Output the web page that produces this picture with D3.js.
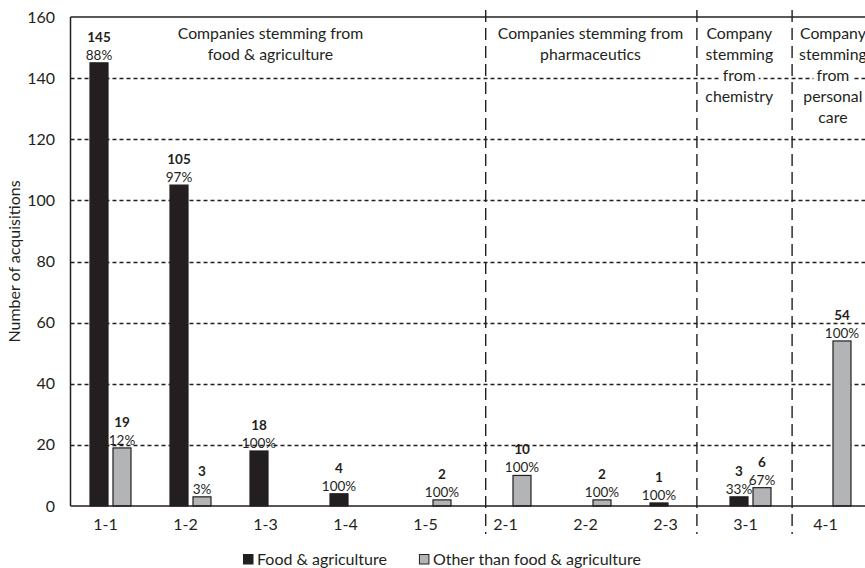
<!DOCTYPE html>
<html>
<head>
<meta charset="utf-8">
<script src="https://cdn.jsdelivr.net/npm/d3@7"></script>
<style>
  html, body { margin: 0; padding: 0; background: #fff; }
  svg { display: block; }
  text { font-family: Lato, "Open Sans", sans-serif; fill: #231f20; }
</style>
</head>
<body>
<svg id="chart" width="865" height="568"></svg>
<script>
// Acquisitions by category of acquired company
const categories = ["1-1", "1-2", "1-3", "1-4", "1-5", "2-1", "2-2", "2-3", "3-1", "4-1"];
const seriesNames = ["Food & agriculture", "Other than food & agriculture"];
const foodAgri = [145, 105, 18, 4, 0, 0, 0, 1, 3, 0];
const otherThan = [19, 3, 0, 0, 2, 10, 2, 0, 6, 54];
const yTicks = [0, 20, 40, 60, 80, 100, 120, 140, 160];

// Sector headers (centre and separators given in category-band units)
const headerLines = [
  ["Companies stemming from", "food & agriculture"],
  ["Companies stemming from", "pharmaceutics"],
  ["Company", "stemming", "from", "chemistry"],
  ["Company", "stemming", "from", "personal", "care"]
];
const headerCenters = [2.5, 6.5, 8.36, 9.53];
const separators = [5.19, 7.83, 9.02];

const svg = d3.select("#chart");
const W = 865, H = 568;
const m = { left: 70.5, top: 17, bottom: 62 };
const plotRight = m.left + 80 * categories.length;
const y0 = H - m.bottom, y1 = m.top;

const x = d3.scaleBand().domain(categories).range([m.left, plotRight]).padding(0);
const xu = d3.scaleLinear().domain([0, categories.length]).range([m.left, plotRight]);
const xs = d3.scaleBand().domain(seriesNames).range([-20.5, 20.5]).paddingInner(0.217).paddingOuter(0);
const y = d3.scaleLinear().domain([0, 160]).range([y0, y1]);

const colors = { [seriesNames[0]]: "#231f20", [seriesNames[1]]: "#b3b4b6" };

// Horizontal dashed gridlines
svg.append("g").selectAll("line")
  .data(yTicks.filter(t => t > 0 && t < 160))
  .join("line")
  .attr("x1", m.left).attr("x2", plotRight)
  .attr("y1", d => Math.round(y(d)) + 0.5).attr("y2", d => Math.round(y(d)) + 0.5)
  .attr("stroke", "#231f20").attr("stroke-width", 1.3)
  .attr("stroke-dasharray", "4,3");

// Bars
const rows = categories.map((c, i) => {
  const total = foodAgri[i] + otherThan[i];
  return [
    { cat: c, s: seriesNames[0], v: foodAgri[i], pct: total ? foodAgri[i] / total : 0 },
    { cat: c, s: seriesNames[1], v: otherThan[i], pct: total ? otherThan[i] / total : 0 }
  ];
}).flat().filter(d => d.v > 0);

const barX = d => x(d.cat) + x.bandwidth() / 2 + xs(d.s);

svg.append("g").selectAll("rect")
  .data(rows)
  .join("rect")
  .attr("x", d => barX(d))
  .attr("width", xs.bandwidth())
  .attr("y", d => y(d.v))
  .attr("height", d => y0 - y(d.v))
  .attr("fill", d => colors[d.s])
  .attr("stroke", "#231f20").attr("stroke-width", 1.2);

// Value and share labels above bars
const lbl = svg.append("g").attr("text-anchor", "middle");
lbl.selectAll("text.val")
  .data(rows).join("text").attr("class", "val")
  .attr("x", d => barX(d) + xs.bandwidth() / 2)
  .attr("y", d => y(d.v) - 21)
  .attr("font-size", 13.5).attr("font-weight", "bold")
  .text(d => d.v);
lbl.selectAll("text.pct")
  .data(rows).join("text").attr("class", "pct")
  .attr("x", d => barX(d) + xs.bandwidth() / 2)
  .attr("y", d => y(d.v) - 3)
  .attr("font-size", 13.5)
  .text(d => Math.round(d.pct * 100) + "%");

// Frame: left axis, top border, baseline
const frame = svg.append("g").attr("stroke", "#231f20").attr("stroke-width", 1.5);
frame.append("line").attr("x1", m.left).attr("x2", m.left).attr("y1", y1).attr("y2", y0);
frame.append("line").attr("x1", m.left).attr("x2", plotRight).attr("y1", y1).attr("y2", y1);
frame.append("line").attr("x1", m.left).attr("x2", plotRight).attr("y1", y0).attr("y2", y0);

// Sector separators
svg.append("g").selectAll("line")
  .data(separators).join("line")
  .attr("x1", d => xu(d)).attr("x2", d => xu(d))
  .attr("y1", y1 - 7).attr("y2", y0 + 28)
  .attr("stroke", "#231f20").attr("stroke-width", 1.4)
  .attr("stroke-dasharray", "12,6");

// Sector headers with white backing
const hdr = svg.append("g");
headerLines.forEach((lines, gi) => {
  lines.forEach((ln, li) => {
    const g = hdr.append("g");
    const t = g.append("text")
      .attr("x", xu(headerCenters[gi]))
      .attr("y", 39 + li * 21)
      .attr("text-anchor", "middle")
      .attr("font-size", 15.8)
      .text(ln);
    const bb = t.node().getBBox();
    g.insert("rect", "text")
      .attr("x", bb.x - 3).attr("y", bb.y + 2)
      .attr("width", bb.width + 6).attr("height", bb.height - 3)
      .attr("fill", "#fff");
  });
});

// Y axis tick labels
svg.append("g").attr("text-anchor", "end").selectAll("text")
  .data(yTicks).join("text")
  .attr("x", 55).attr("y", d => y(d) + 5.5)
  .attr("font-size", 16)
  .text(d => d);

// Y axis title
svg.append("text")
  .attr("transform", `translate(20,${(y0 + y1) / 2}) rotate(-90)`)
  .attr("text-anchor", "middle")
  .attr("font-size", 16)
  .text("Number of acquisitions");

// X axis category labels
svg.append("g").attr("text-anchor", "middle").selectAll("text")
  .data(categories).join("text")
  .attr("x", d => x(d) + x.bandwidth() / 2 - 5)
  .attr("y", y0 + 24)
  .attr("font-size", 16)
  .text(d => d);

// Legend
const legend = svg.append("g").attr("transform", "translate(243,554)");
let lx = 0;
seriesNames.forEach((s, i) => {
  const g = legend.append("g").attr("transform", `translate(${lx},0)`);
  g.append("rect").attr("x", 0.5).attr("y", 0.5).attr("width", 9.5).attr("height", 9.5)
    .attr("fill", colors[s]).attr("stroke", "#231f20").attr("stroke-width", 1);
  const t = g.append("text").attr("x", 14).attr("y", 10.5).attr("font-size", 16).text(s);
  lx += 14 + t.node().getComputedTextLength() + 32;
});
</script>
</body>
</html>
